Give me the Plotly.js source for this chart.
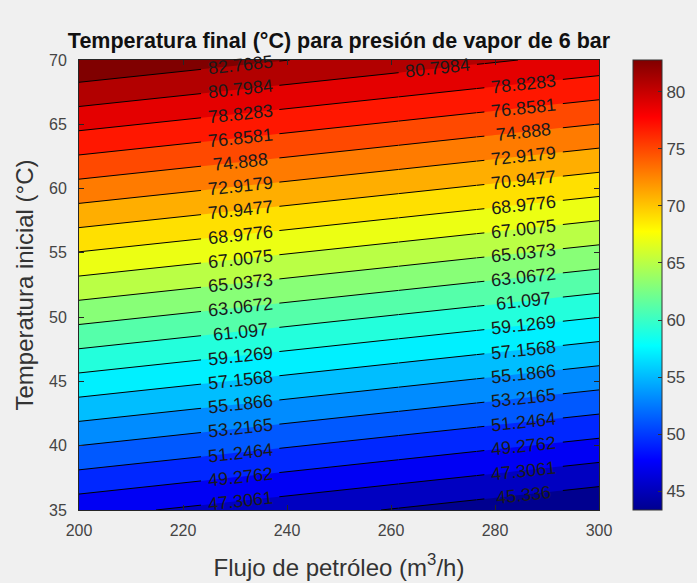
<!DOCTYPE html>
<html>
<head>
<meta charset="utf-8">
<script src="https://cdn.plot.ly/plotly-3.0.1.min.js"></script>
<style>html,body{margin:0;padding:0;background:#f0f0f0;}#chart{width:697px;height:583px;}</style>
</head>
<body>
<div id="chart"></div>
<script>
// Oil flow (m3/h) columns and initial temperature rows; final temperature
var flujo = [200, 223.5, 238.5, 261.5, 276.5, 278, 293, 300];
var tempInicial = [35, 70];
var tempFinal = [
  [47.98, 46.91, 46.23, 45.18, 44.50, 44.43, 43.75, 43.43],
  [84.58, 83.53, 82.86, 81.83, 81.15, 81.09, 80.41, 80.10]
];
// contour levels as labelled in the picture: 45.336, 47.3061, ... 82.7685
var levelStart = 45.3359675;
var levelSize = 1.970135;
var levelCount = 20;
var cbMin = 43.3658, cbMax = 82.7685;
var cbTicks = [45, 50, 55, 60, 65, 70, 75, 80];
var xTicks = [200, 220, 240, 260, 280, 300];
var yTicks = [35, 40, 45, 50, 55, 60, 65, 70];

// contour line pieces between data columns: [first column, last column, first level, last level]
// (the gaps leave room for the inline labels)
var lineSegments = [
  [0, 1, 0, 19],
  [2, 3, 0, 19],
  [3, 4, 0, 17],
  [4, 5, 0, 19],
  [5, 6, 18, 18],
  [6, 7, 0, 19]
];
// inline labels: level indices and the flow where each label sits
var leftLabelLevels = [1, 2, 3, 4, 5, 6, 7, 8, 9, 10, 11, 12, 13, 14, 15, 16, 17, 18, 19];
var leftLabelFlow = 231;
var rightLabelLevels = [0, 1, 2, 3, 4, 5, 6, 7, 8, 9, 10, 11, 12, 13, 14, 15, 16, 17];
var rightLabelFlow = 285.5;
var topLabelLevels = [18];
var topLabelFlow = 269;

var jet = [
  [0, 'rgb(0,0,143)'],
  [0.111, 'rgb(0,0,255)'],
  [0.365, 'rgb(0,255,255)'],
  [0.619, 'rgb(255,255,0)'],
  [0.873, 'rgb(255,0,0)'],
  [1, 'rgb(128,0,0)']
];
var FONT = 'Liberation Sans, Arial, Helvetica, sans-serif';
var LABELFONT = {family: FONT, size: 18, color: '#1a1a1a'};

function level(k) { return levelStart + k * levelSize; }
function sliceCols(arr, a, b) { return arr.map(function (r) { return r.slice(a, b + 1); }); }

var traces = [];
traces.push({
  type: 'contour', x: flujo, y: tempInicial, z: tempFinal,
  autocontour: false,
  contours: {start: level(0), end: level(levelCount - 1), size: levelSize, coloring: 'fill', showlines: false},
  colorscale: jet, showscale: false, line: {width: 0}, hoverinfo: 'skip'
});
lineSegments.forEach(function (s) {
  traces.push({
    type: 'contour', x: flujo.slice(s[0], s[1] + 1), y: tempInicial, z: sliceCols(tempFinal, s[0], s[1]),
    autocontour: false,
    contours: {start: level(s[2]), end: level(s[3]) + levelSize * 0.25, size: levelSize, coloring: 'none',
      showlines: true, showlabels: false},
    line: {color: '#000', width: 1}, showscale: false, hoverinfo: 'skip'
  });
});
traces.push({
  type: 'scatter', x: [null], y: [null], mode: 'markers', hoverinfo: 'skip', showlegend: false,
  marker: {
    color: [cbMin, cbMax], cmin: cbMin, cmax: cbMax, colorscale: jet, showscale: true,
    colorbar: {
      xref: 'container', x: 0.9082, xanchor: 'left', xpad: 0, ypad: 0,
      y: 0.5, yanchor: 'middle',
      len: 1, lenmode: 'fraction', thickness: 29, thicknessmode: 'pixels',
      outlinewidth: 1, outlinecolor: '#333',
      tickvals: cbTicks, ticks: 'inside', ticklen: 4, tickcolor: '#333',
      tickfont: {family: FONT, size: 17, color: '#444'}
    }
  }
});

// place the inline labels on their contour line using the data grid
function zAt(F, row) {
  for (var i = 0; i < flujo.length - 1; i++) {
    if (F >= flujo[i] && F <= flujo[i + 1]) {
      var t = (F - flujo[i]) / (flujo[i + 1] - flujo[i]);
      return tempFinal[row][i] + t * (tempFinal[row][i + 1] - tempFinal[row][i]);
    }
  }
  return NaN;
}
function tempOnLevel(F, L) {
  var z0 = zAt(F, 0), z1 = zAt(F, 1);
  return tempInicial[0] + (L - z0) / (z1 - z0) * (tempInicial[1] - tempInicial[0]);
}
var pxX = 520 / 100, pxY = 450 / 35;
function labelAnn(k, F) {
  var L = level(k);
  var T = tempOnLevel(F, L);
  var dT = tempOnLevel(F + 5, L) - tempOnLevel(F - 5, L);
  var ang = -Math.atan2(dT * pxY, 10 * pxX) * 180 / Math.PI;
  return {x: F, y: T, xref: 'x', yref: 'y', showarrow: false, text: String(Number(L.toPrecision(6))),
    textangle: ang, font: LABELFONT, xanchor: 'center', yanchor: 'middle'};
}
var annotations = []
  .concat(leftLabelLevels.map(function (k) { return labelAnn(k, leftLabelFlow); }))
  .concat(rightLabelLevels.map(function (k) { return labelAnn(k, rightLabelFlow); }))
  .concat(topLabelLevels.map(function (k) { return labelAnn(k, topLabelFlow); }));

var axisCommon = {
  showgrid: false, zeroline: false, showline: true, mirror: 'ticks',
  linecolor: '#262626', linewidth: 1, ticks: 'inside', ticklen: 5, tickcolor: '#262626',
  tickfont: {family: FONT, size: 16, color: '#444'}
};

var layout = {
  width: 697, height: 583,
  margin: {l: 79, r: 98, t: 60, b: 73},
  paper_bgcolor: '#f0f0f0', plot_bgcolor: '#f0f0f0',
  showlegend: false,
  annotations: annotations,
  title: {text: '<b>Temperatura final (°C) para presión de vapor de 6 bar</b>',
    font: {family: FONT, size: 21.5, color: '#111'}, xref: 'paper', x: 0.5, xanchor: 'center',
    yref: 'container', y: 0.931, yanchor: 'middle'},
  xaxis: Object.assign({}, axisCommon, {range: [200, 300], tickvals: xTicks, ticklabelstandoff: 6,
    title: {text: 'Flujo de petróleo (m<sup>3</sup>/h)', font: {family: FONT, size: 24, color: '#333'}, standoff: 20}}),
  yaxis: Object.assign({}, axisCommon, {range: [35, 70], tickvals: yTicks, ticklabelstandoff: 8,
    title: {text: 'Temperatura inicial (°C)', font: {family: FONT, size: 24, color: '#333'}, standoff: 8}})
};

Plotly.newPlot('chart', traces, layout, {staticPlot: true});
</script>
</body>
</html>
